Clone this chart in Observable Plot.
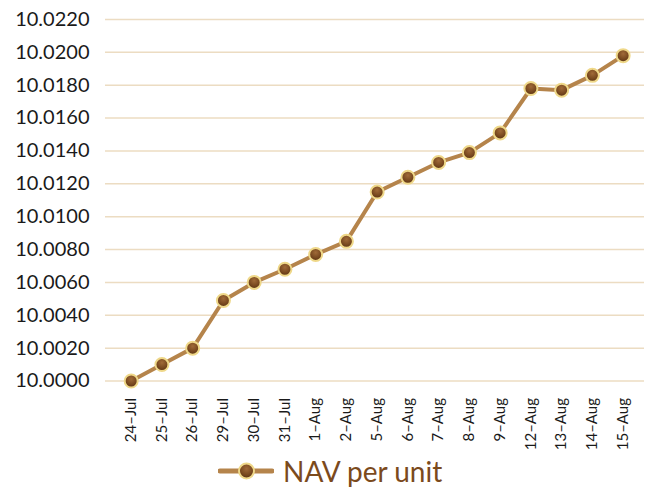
<!DOCTYPE html>
<html>
<head>
<meta charset="utf-8">
<script src="https://cdn.jsdelivr.net/npm/d3@7"></script>
<script src="https://cdn.jsdelivr.net/npm/@observablehq/plot@0.6"></script>
<style>
  html, body { margin: 0; padding: 0; background: #ffffff; }
  #wrap { width: 646px; font-family: Lato, "Open Sans", sans-serif; }
  #legend { display: flex; align-items: center; height: 38px; margin-left: 218px; padding-top: 2px; }
  #legend span { font-size: 28px; color: #7b4a1c; margin-left: 9px; line-height: 1; }
</style>
</head>
<body>
<div id="wrap"><div id="chart"></div>
<div id="legend">
  <svg width="56" height="20">
    <defs>
      <radialGradient id="legGrad" cx="50%" cy="35%" r="65%">
        <stop offset="0%" stop-color="#a06a38"/>
        <stop offset="60%" stop-color="#7a4a20"/>
        <stop offset="100%" stop-color="#5a3212"/>
      </radialGradient>
    </defs>
    <line x1="2" x2="54" y1="10" y2="10" stroke="#b5844b" stroke-width="5" stroke-linecap="round"/>
    <circle cx="28.5" cy="10" r="7.5" fill="url(#legGrad)" stroke="#efd889" stroke-width="2"/>
  </svg>
  <span>NAV per unit</span>
</div></div>
<script>
const dates = ["24–Jul","25–Jul","26–Jul","29–Jul","30–Jul","31–Jul","1–Aug","2–Aug","5–Aug","6–Aug","7–Aug","8–Aug","9–Aug","12–Aug","13–Aug","14–Aug","15–Aug"];
const nav = [10.0000,10.0010,10.0020,10.0049,10.0060,10.0068,10.0077,10.0085,10.0115,10.0124,10.0133,10.0139,10.0151,10.0178,10.0177,10.0186,10.0198];
const yTicks = [10.0000,10.0020,10.0040,10.0060,10.0080,10.0100,10.0120,10.0140,10.0160,10.0180,10.0200,10.0220];

const data = dates.map((d, i) => ({date: d, nav: nav[i]}));

const chart = Plot.plot({
  width: 646,
  height: 450,
  marginLeft: 105,
  marginRight: 2,
  marginTop: 19,
  marginBottom: 69.5,
  style: {fontFamily: "Lato, 'Open Sans', sans-serif", background: "#ffffff", color: "#1a1a1a"},
  x: {type: "point", domain: dates, padding: 0.765, align: 0.546, round: false, label: null},
  y: {domain: [10, 10.022], label: null},
  marks: [
    Plot.gridY(yTicks, {stroke: "#ecdcc2", strokeOpacity: 1, strokeWidth: 1.5}),
    Plot.axisY(yTicks, {tickFormat: d => d.toFixed(4), tickSize: 0, tickPadding: 16, fontSize: 20, label: null}),
    Plot.axisX({tickRotate: -90, tickSize: 0, tickPadding: 17, fontSize: 15, label: null}),
    Plot.line(data, {x: "date", y: "nav", stroke: "#b5844b", strokeWidth: 4}),
    Plot.dot(data, {x: "date", y: "nav", r: 6.5, fill: "url(#navGrad)", stroke: "#efd889", strokeWidth: 2})
  ]
});

const svg = d3.select(chart);
const defs = svg.insert("defs", ":first-child");
const g = defs.append("radialGradient").attr("id", "navGrad").attr("cx", "50%").attr("cy", "35%").attr("r", "65%");
g.append("stop").attr("offset", "0%").attr("stop-color", "#a06a38");
g.append("stop").attr("offset", "60%").attr("stop-color", "#7a4a20");
g.append("stop").attr("offset", "100%").attr("stop-color", "#5a3212");

document.getElementById("chart").appendChild(chart);
</script>
</body>
</html>
